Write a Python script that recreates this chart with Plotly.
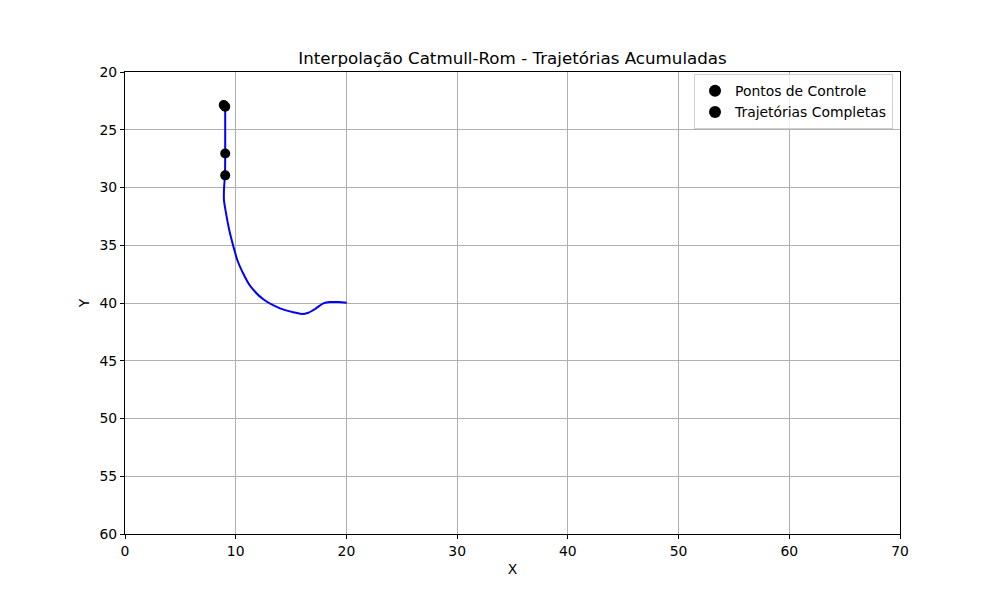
import plotly.graph_objects as go

# Trajectory (interpolated Catmull-Rom curve)
traj_x = [9.05, 9.05, 9.03, 9.0, 8.94, 8.94, 9.12, 9.42, 9.79, 10.15, 10.6, 11.29,
          12.49, 14.0, 15.2, 15.96, 16.56, 17.2, 17.91, 18.52, 19.3, 20.03]
traj_y = [23.0, 27.0, 29.0, 29.35, 30.2, 31.1, 32.2, 33.7, 35.1, 36.3, 37.3, 38.5,
          39.68, 40.46, 40.8, 40.95, 40.84, 40.5, 40.03, 39.91, 39.92, 39.97]

# Control points
ctrl_x = [9.05, 9.05, 9.05]
ctrl_y = [23.0, 27.05, 28.95]

# Complete trajectory markers
full_x = [8.92]
full_y = [22.85]

fig = go.Figure()
fig.add_trace(go.Scatter(x=traj_x, y=traj_y, mode="lines", line=dict(color="blue", width=2, shape="spline", smoothing=0.8),
                         showlegend=False, hoverinfo="skip"))
fig.add_trace(go.Scatter(x=full_x, y=full_y, mode="markers", marker=dict(color="black", size=10),
                         name="Trajetórias Completas", showlegend=False))
fig.add_trace(go.Scatter(x=ctrl_x, y=ctrl_y, mode="markers", marker=dict(color="black", size=10),
                         name="Pontos de Controle"))
fig.add_trace(go.Scatter(x=[None], y=[None], mode="markers", marker=dict(color="black", size=10),
                         name="Trajetórias Completas"))

axis_common = dict(showline=True, linecolor="black", linewidth=1, mirror=True,
                   ticks="outside", ticklen=4, tickcolor="black",
                   showgrid=True, gridcolor="#b0b0b0", gridwidth=1, zeroline=False,
                   tickfont=dict(size=13.9, color="black"))

fig.update_layout(
    width=1000, height=600,
    paper_bgcolor="white", plot_bgcolor="white",
    font=dict(family="DejaVu Sans", color="black"),
    margin=dict(l=117, r=108, t=64, b=74),
    title=dict(text="Interpolação Catmull-Rom - Trajetórias Acumuladas", x=(117 + 892) / 2 / 1000, xanchor="center",
               y=1 - 50 / 600, yanchor="middle", font=dict(size=16.7, color="black")),
    xaxis=dict(range=[0, 70], dtick=10, title=dict(text="X", font=dict(size=13.9), standoff=6), **axis_common),
    yaxis=dict(range=[60, 20], dtick=5, title=dict(text="Y", font=dict(size=13.9), standoff=6), **axis_common),
    legend=dict(x=0.991, y=0.995, xanchor="right", yanchor="top", bordercolor="#d0d0d0", borderwidth=1,
                bgcolor="rgba(255,255,255,0.8)", font=dict(size=13.9), itemsizing="constant",
                tracegroupgap=0),
)

fig.write_html("out.html")
